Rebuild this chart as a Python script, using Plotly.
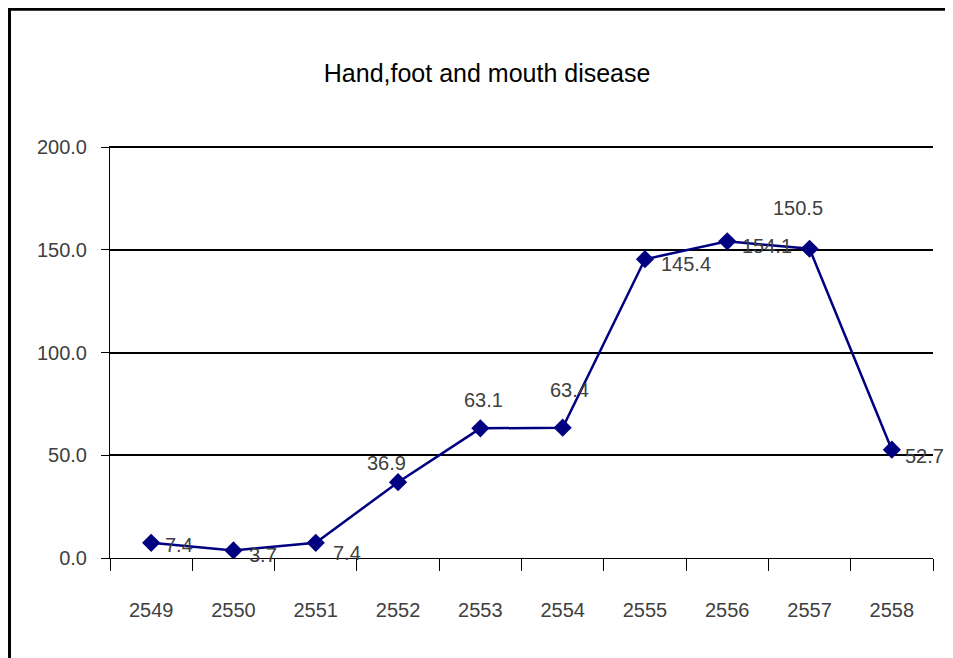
import plotly.graph_objects as go

years = ["2549", "2550", "2551", "2552", "2553", "2554", "2555", "2556", "2557", "2558"]
rates = [7.4, 3.7, 7.4, 36.9, 63.1, 63.4, 145.4, 154.1, 150.5, 52.7]
y_ticks = [0, 50, 100, 150, 200]
y_tick_text = ["0.0", "50.0", "100.0", "150.0", "200.0"]
title_text = "Hand,foot and mouth disease"

# label offsets (pixels) relative to each point, mimicking the source placement
label_dx = [28, 30, 31, -12, 3, 7, 41, 40, -12, 33]
label_dy = [-2, -5, -10, 19, 28, 38, -5, -5, 41, -6]

FONT = "Liberation Sans, Arial, sans-serif"
GRAY = "#404040"

fig = go.Figure()
fig.add_trace(go.Scatter(
    x=years, y=rates, mode="lines+markers",
    line=dict(color="#000080", width=2.5),
    marker=dict(symbol="diamond", size=14, color="#000080"),
    hoverinfo="x+y", showlegend=False,
))

for i, (y, dx, dy) in enumerate(zip(rates, label_dx, label_dy)):
    fig.add_annotation(
        x=i, y=y, text=f"{y:.1f}", showarrow=False,
        xshift=dx, yshift=dy,
        font=dict(family=FONT, size=20, color=GRAY),
    )

# outer frame lines (top and left)
fig.add_shape(type="line", xref="paper", yref="paper", x0=-0.1227, x1=1.1, y0=1.3333, y1=1.3333,
              line=dict(color="black", width=4))
fig.add_shape(type="line", xref="paper", yref="paper", x0=-0.1227, x1=-0.1227, y0=-0.3, y1=1.338,
              line=dict(color="black", width=4))

fig.update_layout(
    width=945, height=650,
    margin=dict(l=102, r=20, t=138, b=100, autoexpand=False),
    paper_bgcolor="white", plot_bgcolor="white",
    title=dict(text=title_text, x=0.507, xanchor="center", y=0.9, yanchor="middle",
               font=dict(family=FONT, size=25, color="black")),
    font=dict(family=FONT, size=20, color=GRAY),
    xaxis=dict(
        type="category", categoryorder="array", categoryarray=years,
        range=[-0.5, len(years) - 0.5], tickangle=0,
        tickson="boundaries", ticks="outside", ticklen=12,
        tickcolor="black", tickwidth=1, showline=True, linecolor="black", linewidth=1,
        showgrid=False, ticklabelstandoff=34, automargin=False,
        tickfont=dict(family=FONT, size=20, color=GRAY),
    ),
    yaxis=dict(
        range=[0, 200.5], tickvals=y_ticks, ticktext=y_tick_text,
        ticks="outside", ticklen=8, tickcolor="black", tickwidth=1,
        showline=True, linecolor="black", linewidth=1,
        showgrid=True, gridcolor="black", gridwidth=1.5, zeroline=False,
        ticklabelstandoff=10, automargin=False,
        tickfont=dict(family=FONT, size=20, color=GRAY),
    ),
)

fig.write_html("out.html")
